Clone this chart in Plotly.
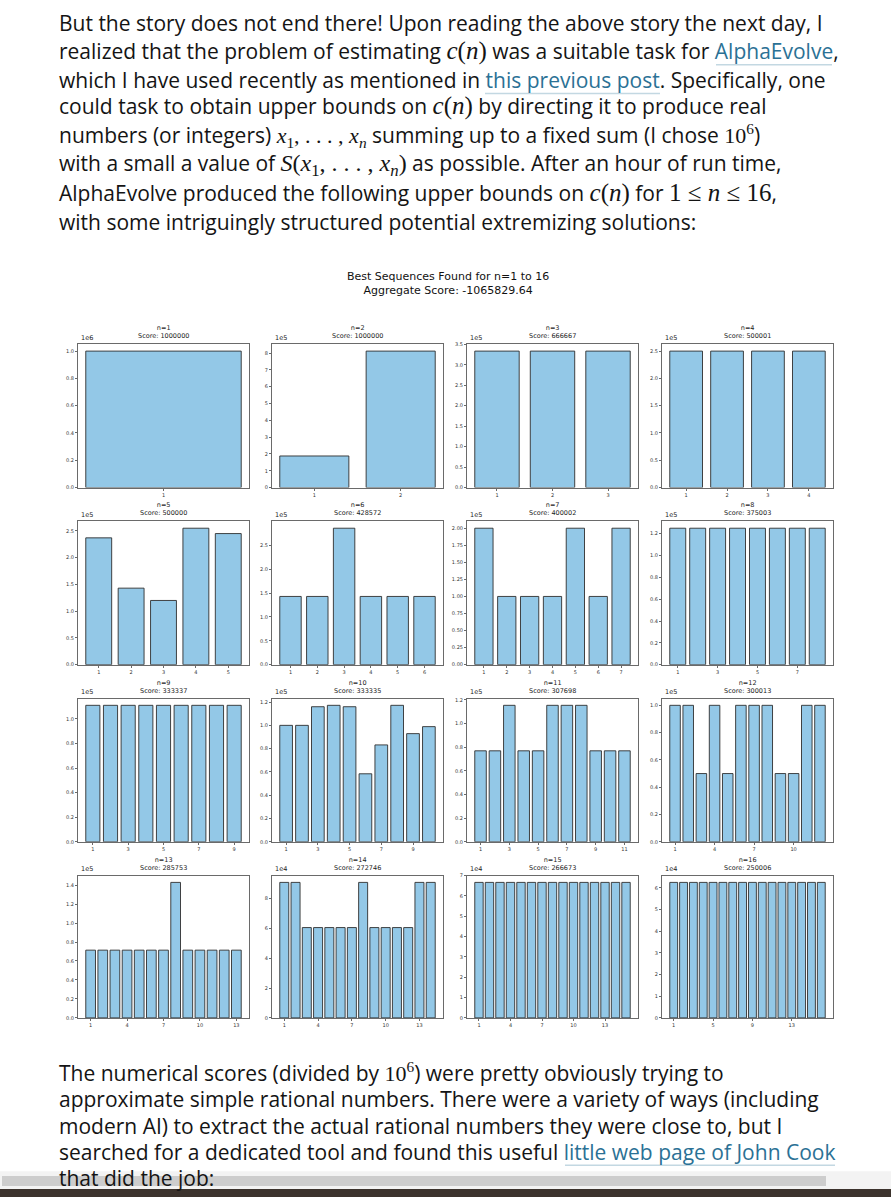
import plotly.graph_objects as go

W, H = 891, 1200

# ---------------- data ----------------
n_values = list(range(1, 17))
scores = [1000000, 1000000, 666667, 500001, 500000, 428572, 400002, 375003,
          333337, 333335, 307698, 300013, 285753, 272746, 266673, 250006]

seq_n1 = [1000000]
seq_n2 = [188000, 812000]
seq_n3 = [333333, 333333, 333334]
seq_n4 = [250000, 250000, 250000, 250000]
seq_n5 = [237000, 143000, 120000, 255000, 245000]
seq_n6 = [142857, 142857, 285714, 142857, 142857, 142857]
seq_n7 = [200000, 100000, 100000, 100000, 200000, 100000, 200000]
seq_n8 = [125000, 125000, 125000, 125000, 125000, 125000, 125000, 125000]
seq_n9 = [111111, 111111, 111111, 111111, 111111, 111111, 111111, 111111, 111111]
seq_n10 = [100000, 100000, 116000, 117200, 116000, 58400, 83200, 117200, 92900, 98900]
seq_n11 = [76923, 76923, 115385, 76923, 76923, 115385, 115385, 115385, 76923, 76923, 76923]
seq_n12 = [100000, 100000, 50000, 100000, 50000, 100000, 100000, 100000, 50000, 50000, 100000, 100000]
seq_n13 = [71429, 71429, 71429, 71429, 71429, 71429, 71429, 142857, 71429, 71429, 71429, 71429, 71429]
seq_n14 = [90909, 90909, 60606, 60606, 60606, 60606, 60606, 90909, 60606, 60606, 60606, 60606, 90909, 90909]
seq_n15 = [66667, 66667, 66667, 66667, 66667, 66667, 66667, 66667, 66667, 66667, 66667, 66667, 66667, 66667, 66667]
seq_n16 = [62500, 62500, 62500, 62500, 62500, 62500, 62500, 62500, 62500, 62500, 62500, 62500, 62500, 62500, 62500, 62500]
sequences = [seq_n1, seq_n2, seq_n3, seq_n4, seq_n5, seq_n6, seq_n7, seq_n8,
             seq_n9, seq_n10, seq_n11, seq_n12, seq_n13, seq_n14, seq_n15, seq_n16]

x_tick_labels = [
    ["1"], ["1", "2"], ["1", "2", "3"], ["1", "2", "3", "4"], ["1", "2", "3", "4", "5"],
    ["1", "2", "3", "4", "5", "6"], ["1", "2", "3", "4", "5", "6", "7"], ["1", "3", "5", "7"],
    ["1", "3", "5", "7", "9"], ["1", "3", "5", "7", "9"], ["1", "3", "5", "7", "9", "11"],
    ["1", "4", "7", "10"], ["1", "4", "7", "10", "13"], ["1", "4", "7", "10", "13"],
    ["1", "4", "7", "10", "13"], ["1", "5", "9", "13"],
]
y_offset_exp = [6, 5, 5, 5, 5, 5, 5, 5, 5, 5, 5, 5, 5, 4, 4, 4]
y_tick_labels = [
    ["0.0", "0.2", "0.4", "0.6", "0.8", "1.0"],
    ["0", "1", "2", "3", "4", "5", "6", "7", "8"],
    ["0.0", "0.5", "1.0", "1.5", "2.0", "2.5", "3.0", "3.5"],
    ["0.0", "0.5", "1.0", "1.5", "2.0", "2.5"],
    ["0.0", "0.5", "1.0", "1.5", "2.0", "2.5"],
    ["0.0", "0.5", "1.0", "1.5", "2.0", "2.5"],
    ["0.00", "0.25", "0.50", "0.75", "1.00", "1.25", "1.50", "1.75", "2.00"],
    ["0.0", "0.2", "0.4", "0.6", "0.8", "1.0", "1.2"],
    ["0.0", "0.2", "0.4", "0.6", "0.8", "1.0"],
    ["0.0", "0.2", "0.4", "0.6", "0.8", "1.0", "1.2"],
    ["0.0", "0.2", "0.4", "0.6", "0.8", "1.0", "1.2"],
    ["0.0", "0.2", "0.4", "0.6", "0.8", "1.0"],
    ["0.0", "0.2", "0.4", "0.6", "0.8", "1.0", "1.2", "1.4"],
    ["0", "2", "4", "6", "8"],
    ["0", "1", "2", "3", "4", "5", "6", "7"],
    ["0", "1", "2", "3", "4", "5", "6"],
]
main_title = "Best Sequences Found for n=1 to 16"
aggregate_label = "Aggregate Score: -1065829.64"

# ---------------- styling ----------------
BAR_FILL = "#93c8e7"
BAR_EDGE = "#2f2f2f"
SPINE = "#6a6a6a"
TXT = "#1a1a1a"
LINK = "#2b7195"
BODY_FONT = "Open Sans, sans-serif"
MPL_FONT = "DejaVu Sans, sans-serif"

col_px = [(78, 249), (272, 443), (467, 638), (662, 833)]
row_px = [(343, 487), (521, 665), (699, 843), (877, 1020)]

fig = go.Figure()
annotations = []

for i, (n, seq) in enumerate(zip(n_values, sequences)):
    k = i + 1
    r, c = divmod(i, 4)
    x0, x1 = col_px[c]
    y0, y1 = row_px[r]
    xa = "x" if k == 1 else f"x{k}"
    ya = "y" if k == 1 else f"y{k}"
    fig.add_trace(go.Bar(
        x=list(range(1, n + 1)), y=seq, width=0.8,
        marker=dict(color=BAR_FILL, line=dict(color=BAR_EDGE, width=0.9)),
        xaxis=xa, yaxis=ya, showlegend=False, hoverinfo="x+y",
    ))
    span = n - 0.2
    xr = [0.6 - 0.05 * span, n + 0.4 + 0.05 * span]
    yr = [0, max(seq) * 1.05]
    scale = 10 ** y_offset_exp[i]
    ytv = [float(t) * scale for t in y_tick_labels[i]]
    xtv = [int(t) for t in x_tick_labels[i]]
    axis_common = dict(showline=True, mirror=True, linecolor=SPINE, linewidth=1,
                       showgrid=False, zeroline=False, ticks="outside", ticklen=2,
                       tickwidth=0.6, tickcolor=SPINE,
                       tickfont=dict(family=MPL_FONT, size=5, color="#333"))
    fig.layout[f"xaxis{'' if k == 1 else k}"] = dict(
        domain=[x0 / W, x1 / W], anchor=ya, range=xr,
        tickmode="array", tickvals=xtv, ticktext=x_tick_labels[i], **axis_common)
    fig.layout[f"yaxis{'' if k == 1 else k}"] = dict(
        domain=[1 - y1 / H, 1 - y0 / H], anchor=xa, range=yr,
        tickmode="array", tickvals=ytv, ticktext=y_tick_labels[i], **axis_common)
    # subplot title
    annotations.append(dict(
        x=(x0 + x1) / 2 / W, y=1 - (y0 - 2) / H, xref="paper", yref="paper",
        xanchor="center", yanchor="bottom", showarrow=False,
        text=f"n={n}<br>Score: {scores[i]}",
        font=dict(family=MPL_FONT, size=6.5, color=TXT)))
    # offset text
    annotations.append(dict(
        x=(x0 + 1) / W, y=1 - (y0 - 0.5) / H, xref="paper", yref="paper",
        xanchor="left", yanchor="bottom", showarrow=False,
        text=f"1e{y_offset_exp[i]}",
        font=dict(family=MPL_FONT, size=6.5, color=TXT)))

# main title
annotations.append(dict(
    x=448 / W, y=1 - 282 / H, xref="paper", yref="paper", xanchor="center",
    yanchor="middle", showarrow=False, align="center",
    text=f"{main_title}<br>{aggregate_label}",
    font=dict(family=MPL_FONT, size=11, color="#111")))

# ---------------- surrounding blog text ----------------
def M(s, size=25):
    return f'<span style="font-family:Liberation Serif, serif;font-size:{size}px">{s}</span>'

def L(s):
    return f'<span style="color:{LINK}">{s}</span>'

cn = M("<i>c</i>(<i>n</i>)")
xs = M("<i>x</i><sub>1</sub>, . . . , <i>x</i><sub><i>n</i></sub>", 22)
top_lines = [
    "But the story does not end there! Upon reading the above story the next day, I",
    "realized that the problem of estimating " + cn + " was a suitable task for " + L("AlphaEvolve") + ",",
    "which I have used recently as mentioned in " + L("this previous post") + ". Specifically, one",
    "could task to obtain upper bounds on " + cn + " by directing it to produce real",
    "numbers (or integers) " + xs + " summing up to a fixed sum (I chose " + M("10<sup>6</sup>", 22) + ")",
    "with a small a value of " + M("<i>S</i>(<i>x</i><sub>1</sub>, . . . , <i>x</i><sub><i>n</i></sub>)", 24) + " as possible. After an hour of run time,",
    "AlphaEvolve produced the following upper bounds on " + cn + " for " + M("1 ≤ <i>n</i> ≤ 16") + ",",
    "with some intriguingly structured potential extremizing solutions:",
]
top_y = [20, 48, 77, 104, 133, 162, 191, 220]
bottom_lines = [
    "The numerical scores (divided by " + M("10<sup>6</sup>", 22) + ") were pretty obviously trying to",
    "approximate simple rational numbers. There were a variety of ways (including",
    "modern AI) to extract the actual rational numbers they were close to, but I",
    "searched for a dedicated tool and found this useful " + L("little web page of John Cook"),
    "that did the job:",
]
bottom_y = [1075, 1102, 1129, 1155, 1181]

for txt, yy in list(zip(top_lines, top_y)) + list(zip(bottom_lines, bottom_y)):
    annotations.append(dict(
        x=57 / W, y=1 - yy / H, xref="paper", yref="paper", xanchor="left",
        yanchor="middle", showarrow=False, align="left", text=txt,
        font=dict(family=BODY_FONT, size=21, color="#141414")))

def hline(xa_px, xb_px, y_px, color="#c3d8e2", width=1.5):
    return dict(type="line", xref="paper", yref="paper", x0=xa_px / W, x1=xb_px / W,
                y0=1 - y_px / H, y1=1 - y_px / H, line=dict(color=color, width=width))

shapes = [
    hline(716, 832, 62), hline(485, 660, 91), hline(565, 835, 1168),
    dict(type="rect", xref="paper", yref="paper", x0=0, x1=1,
         y0=1 - 1192 / H, y1=1 - 1174 / H, fillcolor="#f3f3f3", line=dict(width=0), layer="above"),
    dict(type="rect", xref="paper", yref="paper", x0=2 / W, x1=826 / W,
         y0=1 - 1189 / H, y1=1 - 1179 / H, fillcolor="#cdcdcd", line=dict(width=0), layer="above"),
    dict(type="rect", xref="paper", yref="paper", x0=0, x1=1,
         y0=0, y1=1 - 1192 / H, fillcolor="#3c332d", line=dict(width=0), layer="above"),
]

fig.update_layout(
    width=W, height=H, margin=dict(l=0, r=0, t=0, b=0),
    paper_bgcolor="white", plot_bgcolor="white",
    annotations=annotations, shapes=shapes, showlegend=False,
)

fig.write_html("out.html", config={"displayModeBar": False},
               post_script="document.body.style.margin='0';document.body.style.overflow='hidden';")
